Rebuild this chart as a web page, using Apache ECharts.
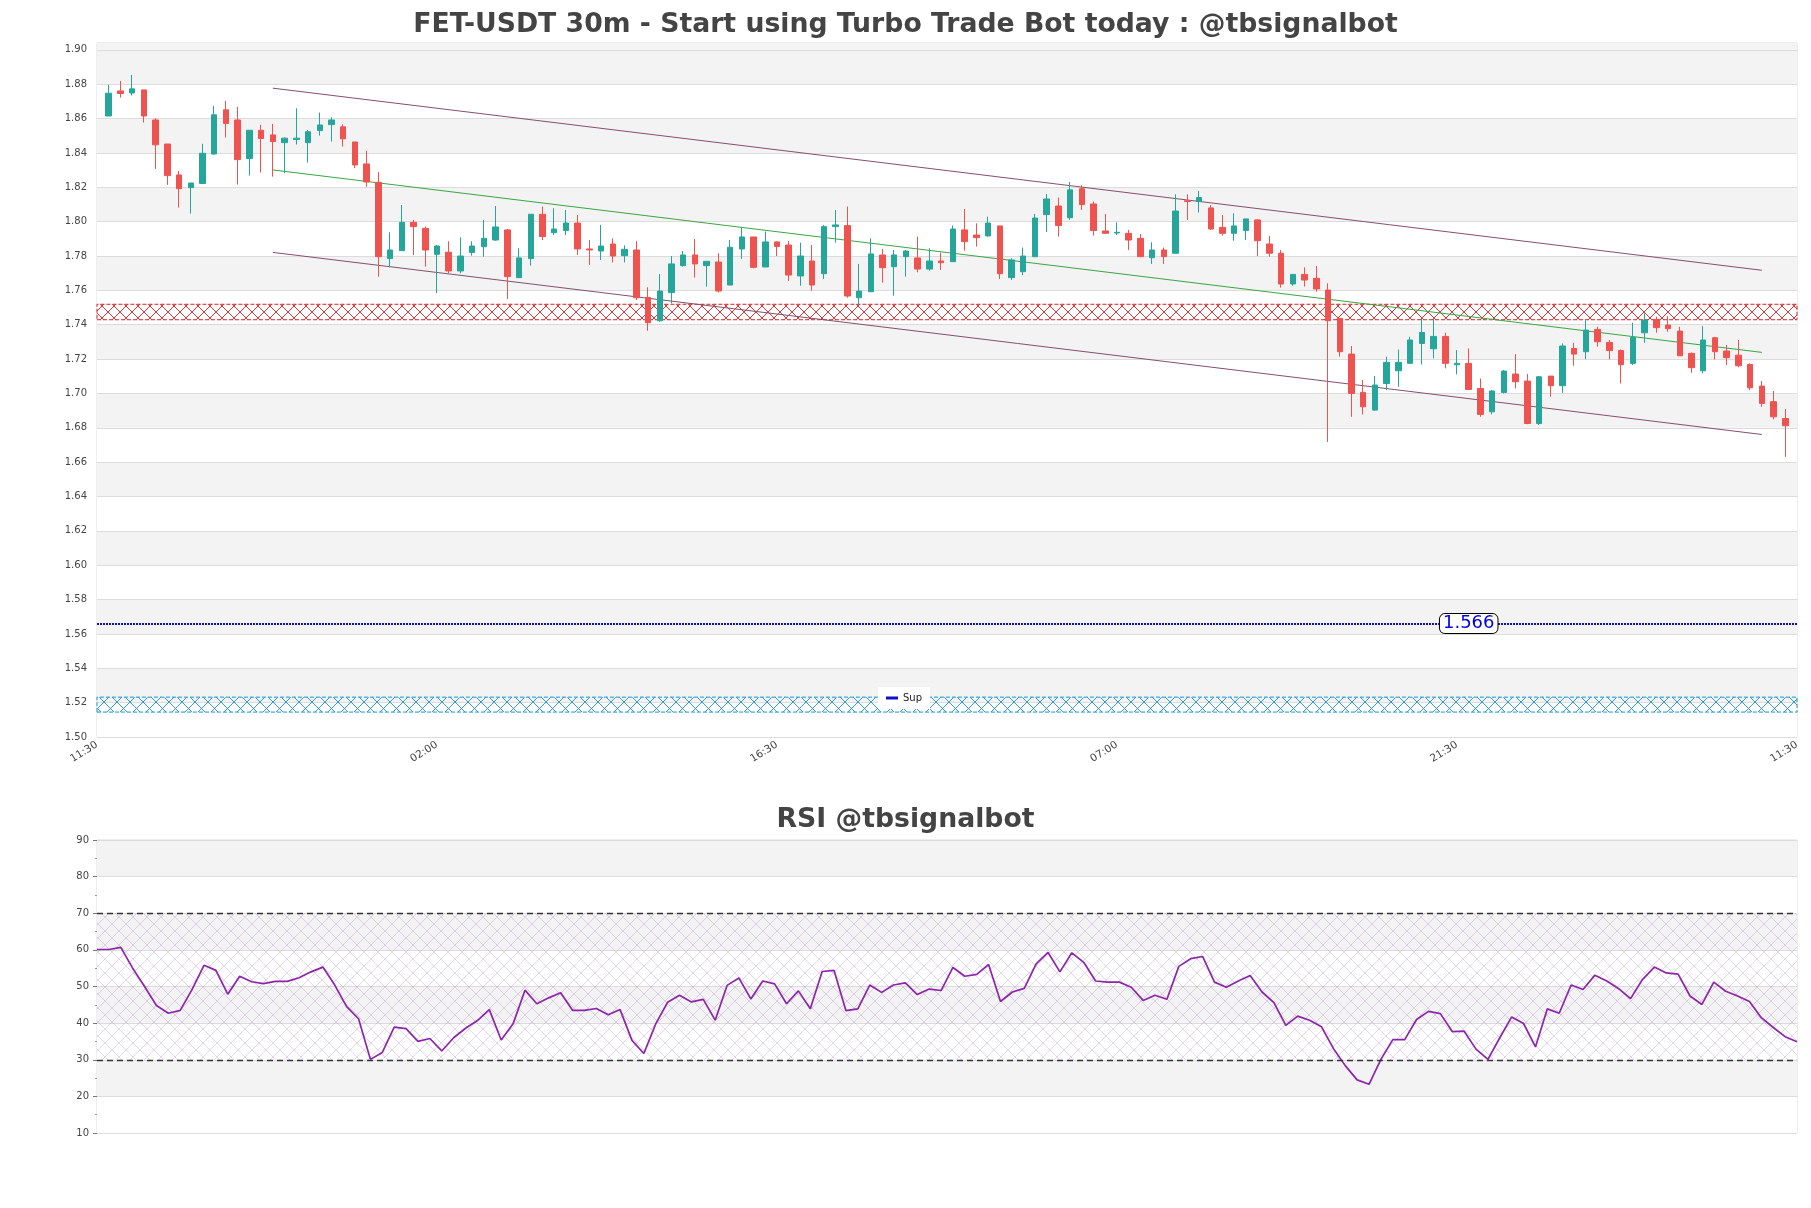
<!DOCTYPE html>
<html>
<head>
<meta charset="utf-8">
<script src="https://cdn.jsdelivr.net/npm/echarts@6/dist/echarts.min.js"></script>
<style>
html, body { margin: 0; padding: 0; background: #fff; }
#chart { width: 1811px; height: 1208px; }
</style>
</head>
<body>
<div id="chart"></div>
<script>
// x axis: one empty slot before the first candle and one after the last
const tickLabels = ['11:30', '02:00', '16:30', '07:00', '21:30', '11:30'];
const tickSlots = [0, 29, 58, 87, 116, 145];

const open = [
  1.8615, 1.8761, 1.8749, 1.8767, 1.8592, 1.8452, 1.8272, 1.8198, 1.8222, 1.8394,
  1.8651, 1.8592, 1.8367, 1.8532, 1.8505, 1.8460, 1.8478, 1.8460, 1.8530, 1.8565,
  1.8552, 1.8464, 1.8336, 1.8229, 1.7785, 1.7831, 1.7996, 1.7961, 1.7810, 1.7822,
  1.7713, 1.7820, 1.7854, 1.7893, 1.7952, 1.7674, 1.7785, 1.8043, 1.7936, 1.7948,
  1.7992, 1.7841, 1.7829, 1.7870, 1.7802, 1.7835, 1.7559, 1.7423, 1.7587, 1.7744,
  1.7806, 1.7744, 1.7765, 1.7631, 1.7841, 1.7911, 1.7736, 1.7882, 1.7864, 1.7684,
  1.7771, 1.7697, 1.7971, 1.7977, 1.7557, 1.7592, 1.7806, 1.7738, 1.7796, 1.7789,
  1.7724, 1.7771, 1.7767, 1.7952, 1.7922, 1.7917, 1.7975, 1.7674, 1.7709, 1.7796,
  1.8041, 1.8091, 1.8023, 1.8192, 1.8103, 1.7946, 1.7934, 1.7932, 1.7903, 1.7790,
  1.7835, 1.7816, 1.8122, 1.8117, 1.8080, 1.7967, 1.7932, 1.7948, 1.8010, 1.7870,
  1.7816, 1.7637, 1.7693, 1.7670, 1.7602, 1.7437, 1.7229, 1.7006, 1.6903, 1.7058,
  1.7132, 1.7175, 1.7291, 1.7260, 1.7332, 1.7167, 1.7175, 1.7029, 1.6893, 1.7006,
  1.7113, 1.7072, 1.6825, 1.7101, 1.7045, 1.7262, 1.7243, 1.7373, 1.7297, 1.7250,
  1.7175, 1.7353, 1.7431, 1.7398, 1.7363, 1.7233, 1.7132, 1.7324, 1.7247, 1.7223,
  1.7169, 1.7043, 1.6952, 1.6854
];
const close = [
  1.8748, 1.8746, 1.8773, 1.8615, 1.8447, 1.8268, 1.8192, 1.8225, 1.8398, 1.8622,
  1.8571, 1.8361, 1.8532, 1.8484, 1.8466, 1.8486, 1.8486, 1.8523, 1.8563, 1.8592,
  1.8482, 1.8330, 1.8231, 1.7796, 1.7835, 1.7996, 1.7971, 1.7835, 1.7858, 1.7713,
  1.7800, 1.7858, 1.7903, 1.7969, 1.7680, 1.7789, 1.8043, 1.7913, 1.7957, 1.7992,
  1.7841, 1.7835, 1.7858, 1.7800, 1.7839, 1.7557, 1.7412, 1.7596, 1.7754, 1.7806,
  1.7754, 1.7769, 1.7596, 1.7851, 1.7911, 1.7734, 1.7882, 1.7855, 1.7689, 1.7800,
  1.7631, 1.7971, 1.7981, 1.7567, 1.7596, 1.7812, 1.7732, 1.7806, 1.7829, 1.7724,
  1.7771, 1.7761, 1.7957, 1.7884, 1.7907, 1.7992, 1.7697, 1.7777, 1.7800, 1.8021,
  1.8132, 1.7977, 1.8185, 1.8099, 1.7948, 1.7932, 1.7938, 1.7893, 1.7796, 1.7835,
  1.7796, 1.8062, 1.8117, 1.8140, 1.7957, 1.7932, 1.7975, 1.8016, 1.7889, 1.7816,
  1.7637, 1.7693, 1.7660, 1.7608, 1.7423, 1.7243, 1.7000, 1.6922, 1.7049, 1.7181,
  1.7181, 1.7311, 1.7355, 1.7332, 1.7175, 1.7175, 1.7023, 1.6878, 1.7014, 1.7130,
  1.7068, 1.6825, 1.7097, 1.7045, 1.7276, 1.7229, 1.7369, 1.7301, 1.7249, 1.7167,
  1.7326, 1.7427, 1.7383, 1.7377, 1.7219, 1.7150, 1.7311, 1.7243, 1.7208, 1.7161,
  1.7033, 1.6942, 1.6864, 1.6812
];
const low = [
  1.8615, 1.8722, 1.8734, 1.8577, 1.8307, 1.8214, 1.8082, 1.8047, 1.8222, 1.8389,
  1.8490, 1.8216, 1.8268, 1.8286, 1.8262, 1.8282, 1.8449, 1.8344, 1.8501, 1.8466,
  1.8437, 1.8311, 1.8204, 1.7680, 1.7734, 1.7831, 1.7805, 1.7738, 1.7583, 1.7699,
  1.7699, 1.7802, 1.7796, 1.7889, 1.7550, 1.7674, 1.7744, 1.7893, 1.7922, 1.7922,
  1.7806, 1.7748, 1.7777, 1.7763, 1.7763, 1.7544, 1.7365, 1.7418, 1.7524, 1.7738,
  1.7674, 1.7622, 1.7588, 1.7631, 1.7783, 1.7728, 1.7736, 1.7800, 1.7654, 1.7627,
  1.7598, 1.7666, 1.7878, 1.7557, 1.7515, 1.7592, 1.7645, 1.7569, 1.7680, 1.7705,
  1.7715, 1.7719, 1.7767, 1.7831, 1.7855, 1.7913, 1.7666, 1.7660, 1.7689, 1.7796,
  1.7940, 1.7913, 1.8010, 1.8068, 1.7919, 1.7932, 1.7922, 1.7835, 1.7796, 1.7754,
  1.7754, 1.7816, 1.8010, 1.8053, 1.7952, 1.7919, 1.7889, 1.7893, 1.7800, 1.7796,
  1.7616, 1.7627, 1.7622, 1.7592, 1.6718, 1.7214, 1.6864, 1.6878, 1.6899, 1.7019,
  1.7039, 1.7175, 1.7169, 1.7204, 1.7146, 1.7111, 1.7023, 1.6864, 1.6878, 1.7000,
  1.7029, 1.6821, 1.6816, 1.6981, 1.7004, 1.7161, 1.7200, 1.7272, 1.7198, 1.7058,
  1.7165, 1.7295, 1.7353, 1.7359, 1.7219, 1.7120, 1.7117, 1.7198, 1.7165, 1.7152,
  1.7019, 1.6922, 1.6849, 1.6631
];
const high = [
  1.8796, 1.8819, 1.8854, 1.8767, 1.8602, 1.8452, 1.8295, 1.8225, 1.8453, 1.8674,
  1.8703, 1.8668, 1.8532, 1.8563, 1.8569, 1.8491, 1.8660, 1.8534, 1.8635, 1.8608,
  1.8567, 1.8464, 1.8412, 1.8288, 1.7938, 1.8097, 1.8010, 1.7971, 1.7864, 1.7886,
  1.7909, 1.7886, 1.8010, 1.8091, 1.7957, 1.7845, 1.8043, 1.8088, 1.8078, 1.8068,
  1.8039, 1.7893, 1.7981, 1.7903, 1.7862, 1.7886, 1.7618, 1.7695, 1.7800, 1.7829,
  1.7899, 1.7769, 1.7816, 1.7893, 1.7965, 1.7911, 1.7942, 1.7887, 1.7887, 1.7878,
  1.7864, 1.7981, 1.8068, 1.8088, 1.7754, 1.7903, 1.7841, 1.7835, 1.7835, 1.7913,
  1.7845, 1.7820, 1.7977, 1.8074, 1.7990, 1.8029, 1.7975, 1.7787, 1.7849, 1.8045,
  1.8161, 1.8140, 1.8231, 1.8212, 1.8117, 1.8045, 1.7996, 1.7952, 1.7928, 1.7880,
  1.7849, 1.8159, 1.8159, 1.8179, 1.8097, 1.8039, 1.8049, 1.8016, 1.8014, 1.7917,
  1.7835, 1.7693, 1.7734, 1.7742, 1.7641, 1.7437, 1.7276, 1.7078, 1.7101, 1.7214,
  1.7256, 1.7330, 1.7437, 1.7437, 1.7353, 1.7252, 1.7262, 1.7087, 1.7019, 1.7136,
  1.7229, 1.7113, 1.7101, 1.7101, 1.7291, 1.7295, 1.7427, 1.7388, 1.7311, 1.7256,
  1.7412, 1.7466, 1.7447, 1.7451, 1.7388, 1.7239, 1.7392, 1.7330, 1.7282, 1.7311,
  1.7175, 1.7072, 1.7014, 1.6909
];

const rsi = [
  60.1, 60.1, 60.7, 55.0, 50.0, 44.8, 42.7, 43.5, 49.2, 55.8,
  54.4, 47.9, 52.8, 51.3, 50.8, 51.4, 51.4, 52.4, 54.0, 55.3,
  50.4, 44.5, 41.2, 30.1, 32.0, 38.9, 38.5, 35.0, 35.8, 32.4,
  36.0, 38.6, 40.7, 43.7, 35.4, 39.8, 49.0, 45.3, 46.9, 48.3,
  43.5, 43.5, 44.0, 42.3, 43.7, 35.3, 31.7, 39.8, 45.7, 47.6,
  45.8, 46.5, 40.8, 50.3, 52.3, 46.6, 51.5, 50.7, 45.3, 48.8,
  43.9, 54.1, 54.4, 43.4, 43.9, 50.4, 48.4, 50.4, 51.0, 47.8,
  49.3, 48.9, 55.2, 52.8, 53.3, 56.0, 45.9, 48.5, 49.5, 56.2,
  59.3, 54.0, 59.2, 56.6, 51.5, 51.2, 51.2, 49.8, 46.2, 47.6,
  46.5, 55.5, 57.6, 58.2, 51.2, 49.8, 51.5, 53.0, 48.5, 45.6,
  39.4, 41.9, 40.8, 39.0, 33.1, 28.4, 24.5, 23.3, 30.1, 35.5,
  35.5, 41.0, 43.2, 42.6, 37.7, 37.8, 32.9, 30.1, 36.0, 41.7,
  39.9, 33.5, 43.9, 42.7, 50.4, 49.2, 53.1, 51.5, 49.4, 46.7,
  51.9, 55.3, 53.7, 53.4, 47.4, 45.1, 51.2, 48.7, 47.4, 45.9,
  41.5, 38.8, 36.3, 34.9
];

// channel: candle index where it starts / ends, and its level there
const channelIdx = [14, 141];
const channelUpper = [1.8777, 1.7717];
const channelMid = [1.8301, 1.7239];
const channelLower = [1.7821, 1.6761];

const resistZone = [1.7429, 1.7519];
const supportZone = [1.5145, 1.5232];
const supLevel = 1.566;
const supLabelIdx = 116;
const rsiLevels = [30, 70];

const priceMin = 1.50, priceMax = 1.904, priceStep = 0.02;

function hatch(color, size, lw) {
  const c = document.createElement('canvas');
  c.width = size;
  c.height = size;
  const g = c.getContext('2d');
  g.strokeStyle = color;
  g.lineWidth = lw;
  g.beginPath();
  g.moveTo(0, 0); g.lineTo(size, size);
  g.moveTo(size, 0); g.lineTo(0, size);
  g.stroke();
  return { image: c, repeat: 'repeat' };
}

const slots = [];
for (let k = 0; k < open.length + 2; k++) slots.push(String(k));
const candles = slots.map(function (s, k) {
  if (k === 0 || k === slots.length - 1) return ['-', '-', '-', '-'];
  const i = k - 1;
  return [open[i], close[i], low[i], high[i]];
});
const rsiCats = rsi.map(function (v, i) { return String(i); });

function channel(levels) {
  return [[channelIdx[0] + 1, levels[0]], [channelIdx[1] + 1, levels[1]]];
}
function lineSeries(levels, color) {
  return {
    type: 'line', xAxisIndex: 0, yAxisIndex: 0,
    data: channel(levels), showSymbol: false, silent: true,
    lineStyle: { color: color, width: 1 }, z: 3
  };
}

const font = 'DejaVu Sans';
const chart = echarts.init(document.getElementById('chart'));

chart.setOption({
  animation: false,
  backgroundColor: '#ffffff',
  textStyle: { fontFamily: font },
  title: [
    {
      text: 'FET-USDT 30m - Start using Turbo Trade Bot today : @tbsignalbot',
      left: 'center', top: 7,
      textStyle: { fontSize: 26.7, fontWeight: 'bold', color: '#444444', fontFamily: font }
    },
    {
      text: 'RSI @tbsignalbot',
      left: 'center', top: 802,
      textStyle: { fontSize: 26.7, fontWeight: 'bold', color: '#444444', fontFamily: font }
    }
  ],
  legend: {
    data: ['Sup'],
    left: 878, top: 687,
    icon: 'rect', itemWidth: 12, itemHeight: 3,
    backgroundColor: '#ffffff', padding: [6, 8],
    textStyle: { fontSize: 10, color: '#222222', fontFamily: font }
  },
  grid: [
    { left: 97, right: 14, top: 43, height: 694, show: true, borderColor: '#dcdcdc', borderWidth: 1 },
    { left: 97, right: 14, top: 840, height: 293, show: true, borderColor: '#dcdcdc', borderWidth: 1 }
  ],
  xAxis: [
    {
      type: 'category', gridIndex: 0, data: slots, boundaryGap: false,
      axisLine: { show: false }, axisTick: { show: false }, splitLine: { show: false },
      axisLabel: {
        interval: function (idx) { return tickSlots.indexOf(idx) >= 0; },
        formatter: function (v, idx) {
          const p = tickSlots.indexOf(idx);
          return p >= 0 ? tickLabels[p] : '';
        },
        rotate: 32, fontSize: 10.5, color: '#444444', margin: 7
      }
    },
    {
      type: 'category', gridIndex: 1, data: rsiCats, boundaryGap: false,
      axisLine: { show: false }, axisTick: { show: false }, axisLabel: { show: false },
      splitLine: { show: false }
    }
  ],
  yAxis: [
    {
      type: 'value', gridIndex: 0, min: priceMin, max: priceMax, interval: priceStep,
      axisLine: { show: false }, axisTick: { show: false },
      axisLabel: {
        formatter: function (v) { return v.toFixed(2); },
        showMaxLabel: false, fontSize: 10, color: '#444444', margin: 10
      },
      splitLine: { lineStyle: { color: '#dcdcdc', width: 1 } },
      splitArea: { show: true, areaStyle: { color: ['#ffffff', '#f3f3f3'] } }
    },
    {
      type: 'value', gridIndex: 1, min: 10, max: 90, interval: 10,
      axisLine: { show: false },
      axisTick: { show: true, length: 4, lineStyle: { color: '#777777' } },
      minorTick: { show: true, splitNumber: 2, length: 2, lineStyle: { color: '#999999' } },
      axisLabel: { fontSize: 10, color: '#444444', margin: 8 },
      splitLine: { lineStyle: { color: '#dcdcdc', width: 1 } },
      splitArea: { show: true, areaStyle: { color: ['#ffffff', '#f3f3f3'] } }
    }
  ],
  series: [
    {
      // background strip above the last tick and the two zones
      type: 'line', xAxisIndex: 0, yAxisIndex: 0, data: [], silent: true, z: 1,
      markArea: {
        silent: true,
        data: [
          [{ yAxis: 1.90, itemStyle: { color: '#f3f3f3' } }, { yAxis: priceMax }],
          [{
            yAxis: resistZone[0],
            itemStyle: {
              color: hatch('rgba(226,30,30,0.9)', 12, 1),
              borderColor: '#e02020', borderWidth: 1, borderType: 'dashed'
            }
          }, { yAxis: resistZone[1] }],
          [{
            yAxis: supportZone[0],
            itemStyle: {
              color: hatch('rgba(20,150,215,0.9)', 13, 1),
              borderColor: '#1a96d6', borderWidth: 1, borderType: 'dashed'
            }
          }, { yAxis: supportZone[1] }]
        ]
      }
    },
    {
      type: 'candlestick', name: 'FET-USDT', xAxisIndex: 0, yAxisIndex: 0,
      data: candles, barWidth: 6, z: 4,
      itemStyle: {
        color: '#26a69a', color0: '#ef5350',
        borderColor: '#26a69a', borderColor0: '#ef5350', borderWidth: 1
      }
    },
    lineSeries(channelUpper, '#84506a'),
    lineSeries(channelMid, '#3aa544'),
    lineSeries(channelLower, '#84506a'),
    {
      type: 'line', name: 'Sup', xAxisIndex: 0, yAxisIndex: 0, data: [],
      color: '#1010c8', z: 5,
      markLine: {
        silent: true, symbol: 'none', precision: 4, label: { show: false },
        lineStyle: { type: [2, 1], width: 2, color: '#1010c8' },
        data: [{ yAxis: supLevel }]
      },
      markPoint: {
        silent: true, symbol: 'rect', symbolSize: 1,
        itemStyle: { color: 'rgba(0,0,0,0)' },
        label: {
          show: true, position: 'inside', formatter: String(supLevel),
          color: '#0000ee', fontSize: 18, fontFamily: font,
          backgroundColor: '#ffffff', borderColor: '#000000', borderWidth: 1,
          borderRadius: 5, padding: [1, 3, 0, 3]
        },
        data: [{ coord: [supLabelIdx + 1, supLevel] }]
      }
    },
    {
      type: 'line', name: 'RSI', xAxisIndex: 1, yAxisIndex: 1, data: rsi,
      showSymbol: false, silent: true, z: 4,
      lineStyle: { color: '#8e24aa', width: 1.7 },
      markArea: {
        silent: true,
        itemStyle: { color: hatch('rgba(175,140,205,0.35)', 14, 1) },
        data: [[{ yAxis: rsiLevels[0] }, { yAxis: rsiLevels[1] }]]
      },
      markLine: {
        silent: true, symbol: 'none', label: { show: false },
        lineStyle: { type: [6, 4], width: 1.3, color: '#333333' },
        data: [{ yAxis: rsiLevels[0] }, { yAxis: rsiLevels[1] }]
      }
    }
  ]
});
</script>
</body>
</html>
